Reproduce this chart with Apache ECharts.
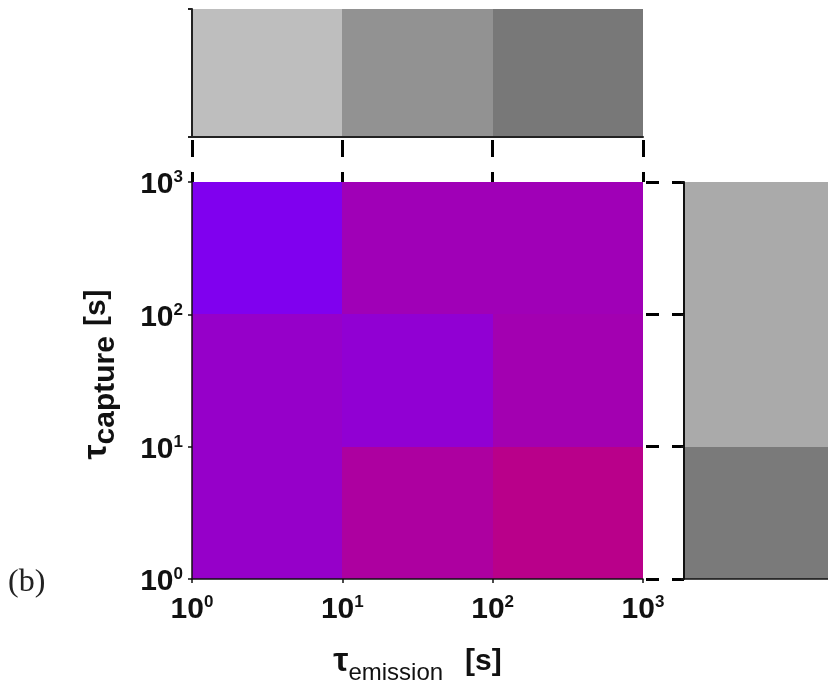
<!DOCTYPE html>
<html>
<head>
<meta charset="utf-8">
<script src="https://cdn.jsdelivr.net/npm/echarts@6/dist/echarts.min.js"></script>
<style>
  html, body { margin: 0; padding: 0; background: #ffffff; }
  #chart { width: 828px; height: 685px; }
</style>
</head>
<body>
<div id="chart"></div>
<script>
// Bin edges (seconds) along each time-constant axis
const emissionEdges = [1, 10, 100, 1000];
const captureEdges = [1, 10, 100, 1000];

// Decade ticks and the exponents printed on them
const decadeTicks = [1, 10, 100, 1000];
const decadeExponents = ['0', '1', '2', '3'];

// Map value of each cell (0 = violet, 1 = magenta), one list per capture bin, emission bins left to right
const mapCapture1to10 = [0.38, 0.74, 0.93];
const mapCapture10to100 = [0.38, 0.30, 0.59];
const mapCapture100to1000 = [0.05, 0.54, 0.54];

// Marginal densities shown as grey level (0 = white, 1 = black)
const emissionMarginal = [0.255, 0.427, 0.53];
const captureMarginal = [0.522, 0.333, 0.333];

const mapRows = [mapCapture1to10, mapCapture10to100, mapCapture100to1000];

// [xLow, xHigh, yLow, yHigh, value]
const heatData = [];
mapRows.forEach((row, r) => {
  row.forEach((v, c) => {
    heatData.push([emissionEdges[c], emissionEdges[c + 1], captureEdges[r], captureEdges[r + 1], v]);
  });
});
const topData = emissionMarginal.map((v, c) => [emissionEdges[c], emissionEdges[c + 1], 0, 1, v]);
const rightData = captureMarginal.map((v, r) => [0, 1, captureEdges[r], captureEdges[r + 1], v]);

// Cells are snapped to whole pixels so neighbours meet without a seam
function renderCell(params, api) {
  const a = api.coord([api.value(0), api.value(2)]);
  const b = api.coord([api.value(1), api.value(3)]);
  const x0 = Math.round(Math.min(a[0], b[0]));
  const x1 = Math.round(Math.max(a[0], b[0]));
  const y0 = Math.round(Math.min(a[1], b[1]));
  const y1 = Math.round(Math.max(a[1], b[1]));
  return {
    type: 'rect',
    shape: { x: x0, y: y0, width: x1 - x0, height: y1 - y0 },
    style: { fill: api.visual('color') }
  };
}

const numFont = 'Liberation Sans';
const decadeRich = {
  b: { fontFamily: numFont, fontSize: 30, fontWeight: 'bold', color: '#111', lineHeight: 32 },
  s: { fontFamily: numFont, fontSize: 17, fontWeight: 'bold', color: '#111', verticalAlign: 'top', lineHeight: 17 }
};
function decadeLabel(value) {
  const i = decadeTicks.indexOf(Math.round(value));
  const exp = i >= 0 ? decadeExponents[i] : String(Math.round(Math.log10(value)));
  return '{b|10}{s|' + exp + '}';
}

const logRange = { type: 'log', logBase: 10, min: decadeTicks[0], max: decadeTicks[decadeTicks.length - 1] };
const noSplit = { show: false };

const chart = echarts.init(document.getElementById('chart'), null, { renderer: 'canvas' });

chart.setOption({
  backgroundColor: '#ffffff',
  animation: false,
  grid: [
    { left: 192, top: 182, width: 451, height: 397, outerBoundsMode: 'none' },   // map
    { left: 192, top: 9, width: 451, height: 128, outerBoundsMode: 'none' },     // emission marginal
    { left: 684, top: 182, width: 144, height: 397, outerBoundsMode: 'none' }    // capture marginal
  ],
  xAxis: [
    Object.assign({}, logRange, {
      gridIndex: 0, position: 'bottom', z: 5,
      axisLine: { lineStyle: { color: '#111', width: 1.5 } },
      axisTick: { length: 4, lineStyle: { color: '#111', width: 1.5 } },
      axisLabel: { margin: 15, formatter: decadeLabel, rich: decadeRich },
      splitLine: noSplit,
      name: '{t|τ}{sub|emission}{u|[s]}',
      nameLocation: 'middle',
      nameGap: 59,
      nameTextStyle: {
        rich: {
          t: { fontFamily: numFont, fontSize: 34, fontWeight: 'bold', color: '#111' },
          sub: { fontFamily: numFont, fontSize: 24, color: '#111', padding: [23, 0, 0, 0] },
          u: { fontFamily: numFont, fontSize: 30, fontWeight: 'bold', color: '#111', padding: [0, 0, 0, 22] }
        }
      }
    }),
    Object.assign({}, logRange, {
      gridIndex: 0, position: 'top', z: 5,
      axisLine: { show: false },
      axisTick: { length: 45, lineStyle: { color: '#000', width: 3, type: [17, 15], dashOffset: 7 } },
      axisLabel: { show: false },
      splitLine: noSplit
    }),
    Object.assign({}, logRange, {
      gridIndex: 1, position: 'bottom', z: 5,
      axisLine: { lineStyle: { color: '#222', width: 2 } },
      axisTick: { show: false },
      axisLabel: { show: false },
      splitLine: noSplit
    }),
    {
      type: 'value', gridIndex: 2, min: 0, max: 1, z: 5,
      axisLine: { lineStyle: { color: '#111', width: 1.5 } },
      axisTick: { show: false },
      axisLabel: { show: false },
      splitLine: noSplit
    }
  ],
  yAxis: [
    Object.assign({}, logRange, {
      gridIndex: 0, position: 'left', z: 5,
      axisLine: { lineStyle: { color: '#111', width: 1.5 } },
      axisTick: { length: 4, lineStyle: { color: '#111', width: 1.5 } },
      axisLabel: { margin: 9, padding: [6, 0, 0, 0], formatter: decadeLabel, rich: decadeRich },
      splitLine: noSplit,
      name: '{t|τ}{sub|capture}{u|[s]}',
      nameLocation: 'middle',
      nameRotate: 90,
      nameGap: 71,
      nameTextStyle: {
        padding: [0, 0, 0, 12],
        rich: {
          t: { fontFamily: numFont, fontSize: 34, fontWeight: 'bold', color: '#111' },
          sub: { fontFamily: numFont, fontSize: 30, fontWeight: 'bold', color: '#111', padding: [18, 0, 0, 0] },
          u: { fontFamily: numFont, fontSize: 30, fontWeight: 'bold', color: '#111', padding: [0, 0, 0, 10] }
        }
      }
    }),
    Object.assign({}, logRange, {
      gridIndex: 0, position: 'right', z: 5,
      axisLine: { show: false },
      axisTick: { length: 41, lineStyle: { color: '#000', width: 3, type: [13, 13], dashOffset: 23 } },
      axisLabel: { show: false },
      splitLine: noSplit
    }),
    {
      type: 'value', gridIndex: 1, min: 0, max: 1, interval: 1, z: 5,
      axisLine: { lineStyle: { color: '#222', width: 2 } },
      axisTick: { length: 4, lineStyle: { color: '#222', width: 2 } },
      axisLabel: { show: false },
      splitLine: noSplit
    },
    Object.assign({}, logRange, {
      gridIndex: 2, position: 'left', z: 5,
      axisLine: { lineStyle: { color: '#111', width: 2 } },
      axisTick: { length: 3, lineStyle: { color: '#111', width: 2 } },
      axisLabel: { show: false },
      splitLine: noSplit
    })
  ],
  visualMap: [
    {
      type: 'continuous', show: false, seriesIndex: 0, dimension: 4, min: 0, max: 1,
      inRange: { color: ['#7d00f5', '#be0082'] }
    },
    {
      type: 'continuous', show: false, seriesIndex: [1, 2], dimension: 4, min: 0, max: 1,
      inRange: { color: ['#ffffff', '#000000'] }
    }
  ],
  series: [
    {
      type: 'custom', name: 'map', xAxisIndex: 0, yAxisIndex: 0, z: 1,
      renderItem: renderCell, encode: { x: [0, 1], y: [2, 3] }, data: heatData
    },
    {
      type: 'custom', name: 'emission marginal', xAxisIndex: 2, yAxisIndex: 2, z: 1,
      renderItem: renderCell, encode: { x: [0, 1], y: [2, 3] }, data: topData
    },
    {
      type: 'custom', name: 'capture marginal', xAxisIndex: 3, yAxisIndex: 3, z: 1,
      renderItem: renderCell, encode: { x: [0, 1], y: [2, 3] }, data: rightData
    }
  ],
  graphic: [
    {
      type: 'text', left: 8, top: 567,
      style: { text: '(b)', font: '32px "Liberation Serif"', fill: '#222' }
    }
  ]
});
</script>
</body>
</html>
